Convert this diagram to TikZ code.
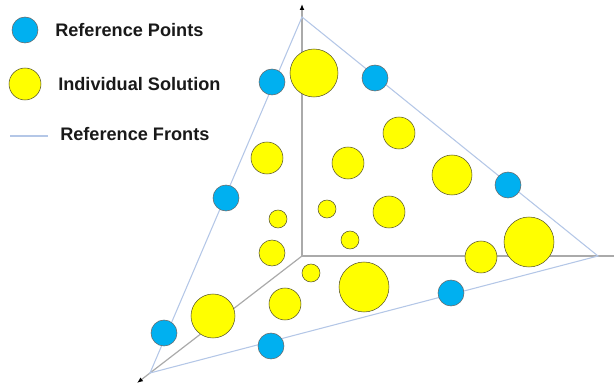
\documentclass[tikz,border=0pt]{standalone}
\usepackage{fontspec}
\setmainfont{Liberation Sans}
\usetikzlibrary{arrows.meta}
\definecolor{refblue}{RGB}{0,176,240}
\definecolor{solyellow}{RGB}{255,255,0}
\definecolor{frontblue}{RGB}{180,199,231}
\definecolor{axisgray}{RGB}{170,170,170}
\definecolor{ink}{RGB}{25,25,25}
\tikzset{
  >={Latex[length=4.5pt,width=3.6pt,color=black]},
  refpt/.style={circle,draw=black!60,fill=refblue,thin,inner sep=0pt,minimum size=#1*1.5pt},
  refpt/.default=13,
  sol/.style={circle,draw=black!50!olive,fill=solyellow,thin,inner sep=0pt,minimum size=#1*1.5pt},
  sol/.default=16,
  frontedge/.style={draw=frontblue,line width=0.8pt},
  axisline/.style={->,draw=axisgray,line width=0.9pt},
  legtext/.style={font=\bfseries\fontsize{13.6}{16}\selectfont,text=ink,anchor=west,inner sep=0pt},
}

\begin{document}
\begin{tikzpicture}[x=0.75pt,y=-0.75pt]
  \useasboundingbox (0,0) rectangle (614,388);

  % axes
  \coordinate (O) at (302,256);
  \coordinate (zend) at (302,4);
  \coordinate (xend) at (622,256);
  \coordinate (yend) at (137,383);
  \draw[axisline] (O) -- (zend);
  \draw[axisline] (O) -- (xend);
  \draw[axisline] (O) -- (yend);

  % reference front
  \coordinate (ftop) at (302,17);
  \coordinate (fright) at (598,256);
  \coordinate (fleft) at (150,373);
  \draw[frontedge] (ftop) -- (fright) -- (fleft) -- cycle;

  % reference points
  \foreach \x/\y [count=\i] in {272/82,375/78,226/198,508/185,164/333,271/346,451/293}
    \node[refpt] (rp\i) at (\x,\y) {};

  % individual solutions
  \foreach \x/\y/\r [count=\i] in {314/73/24,399/133/16,267/158/16,348/163/16,
      452/175/20,278/219/9,327/209/9,389/212/16,350/240/9,272/253/13,311/273/9,
      364/287/25,481/257/16,529/242/25,213/316/22,285/304/16}
    \node[sol=\r] (sol\i) at (\x,\y) {};

  % legend
  \node[refpt] (legrp) at (25,30) {};
  \node[legtext] (legrptext) at (55,30) {Reference Points};
  \node[sol=16] (legsol) at (25,84) {};
  \node[legtext] (legsoltext) at (58,84) {Individual Solution};
  \coordinate (legfa) at (10,136);
  \coordinate (legfb) at (48,136);
  \draw[frontedge] (legfa) -- (legfb);
  \node[legtext] (legfronttext) at (60,134) {Reference Fronts};
\end{tikzpicture}
\end{document}
